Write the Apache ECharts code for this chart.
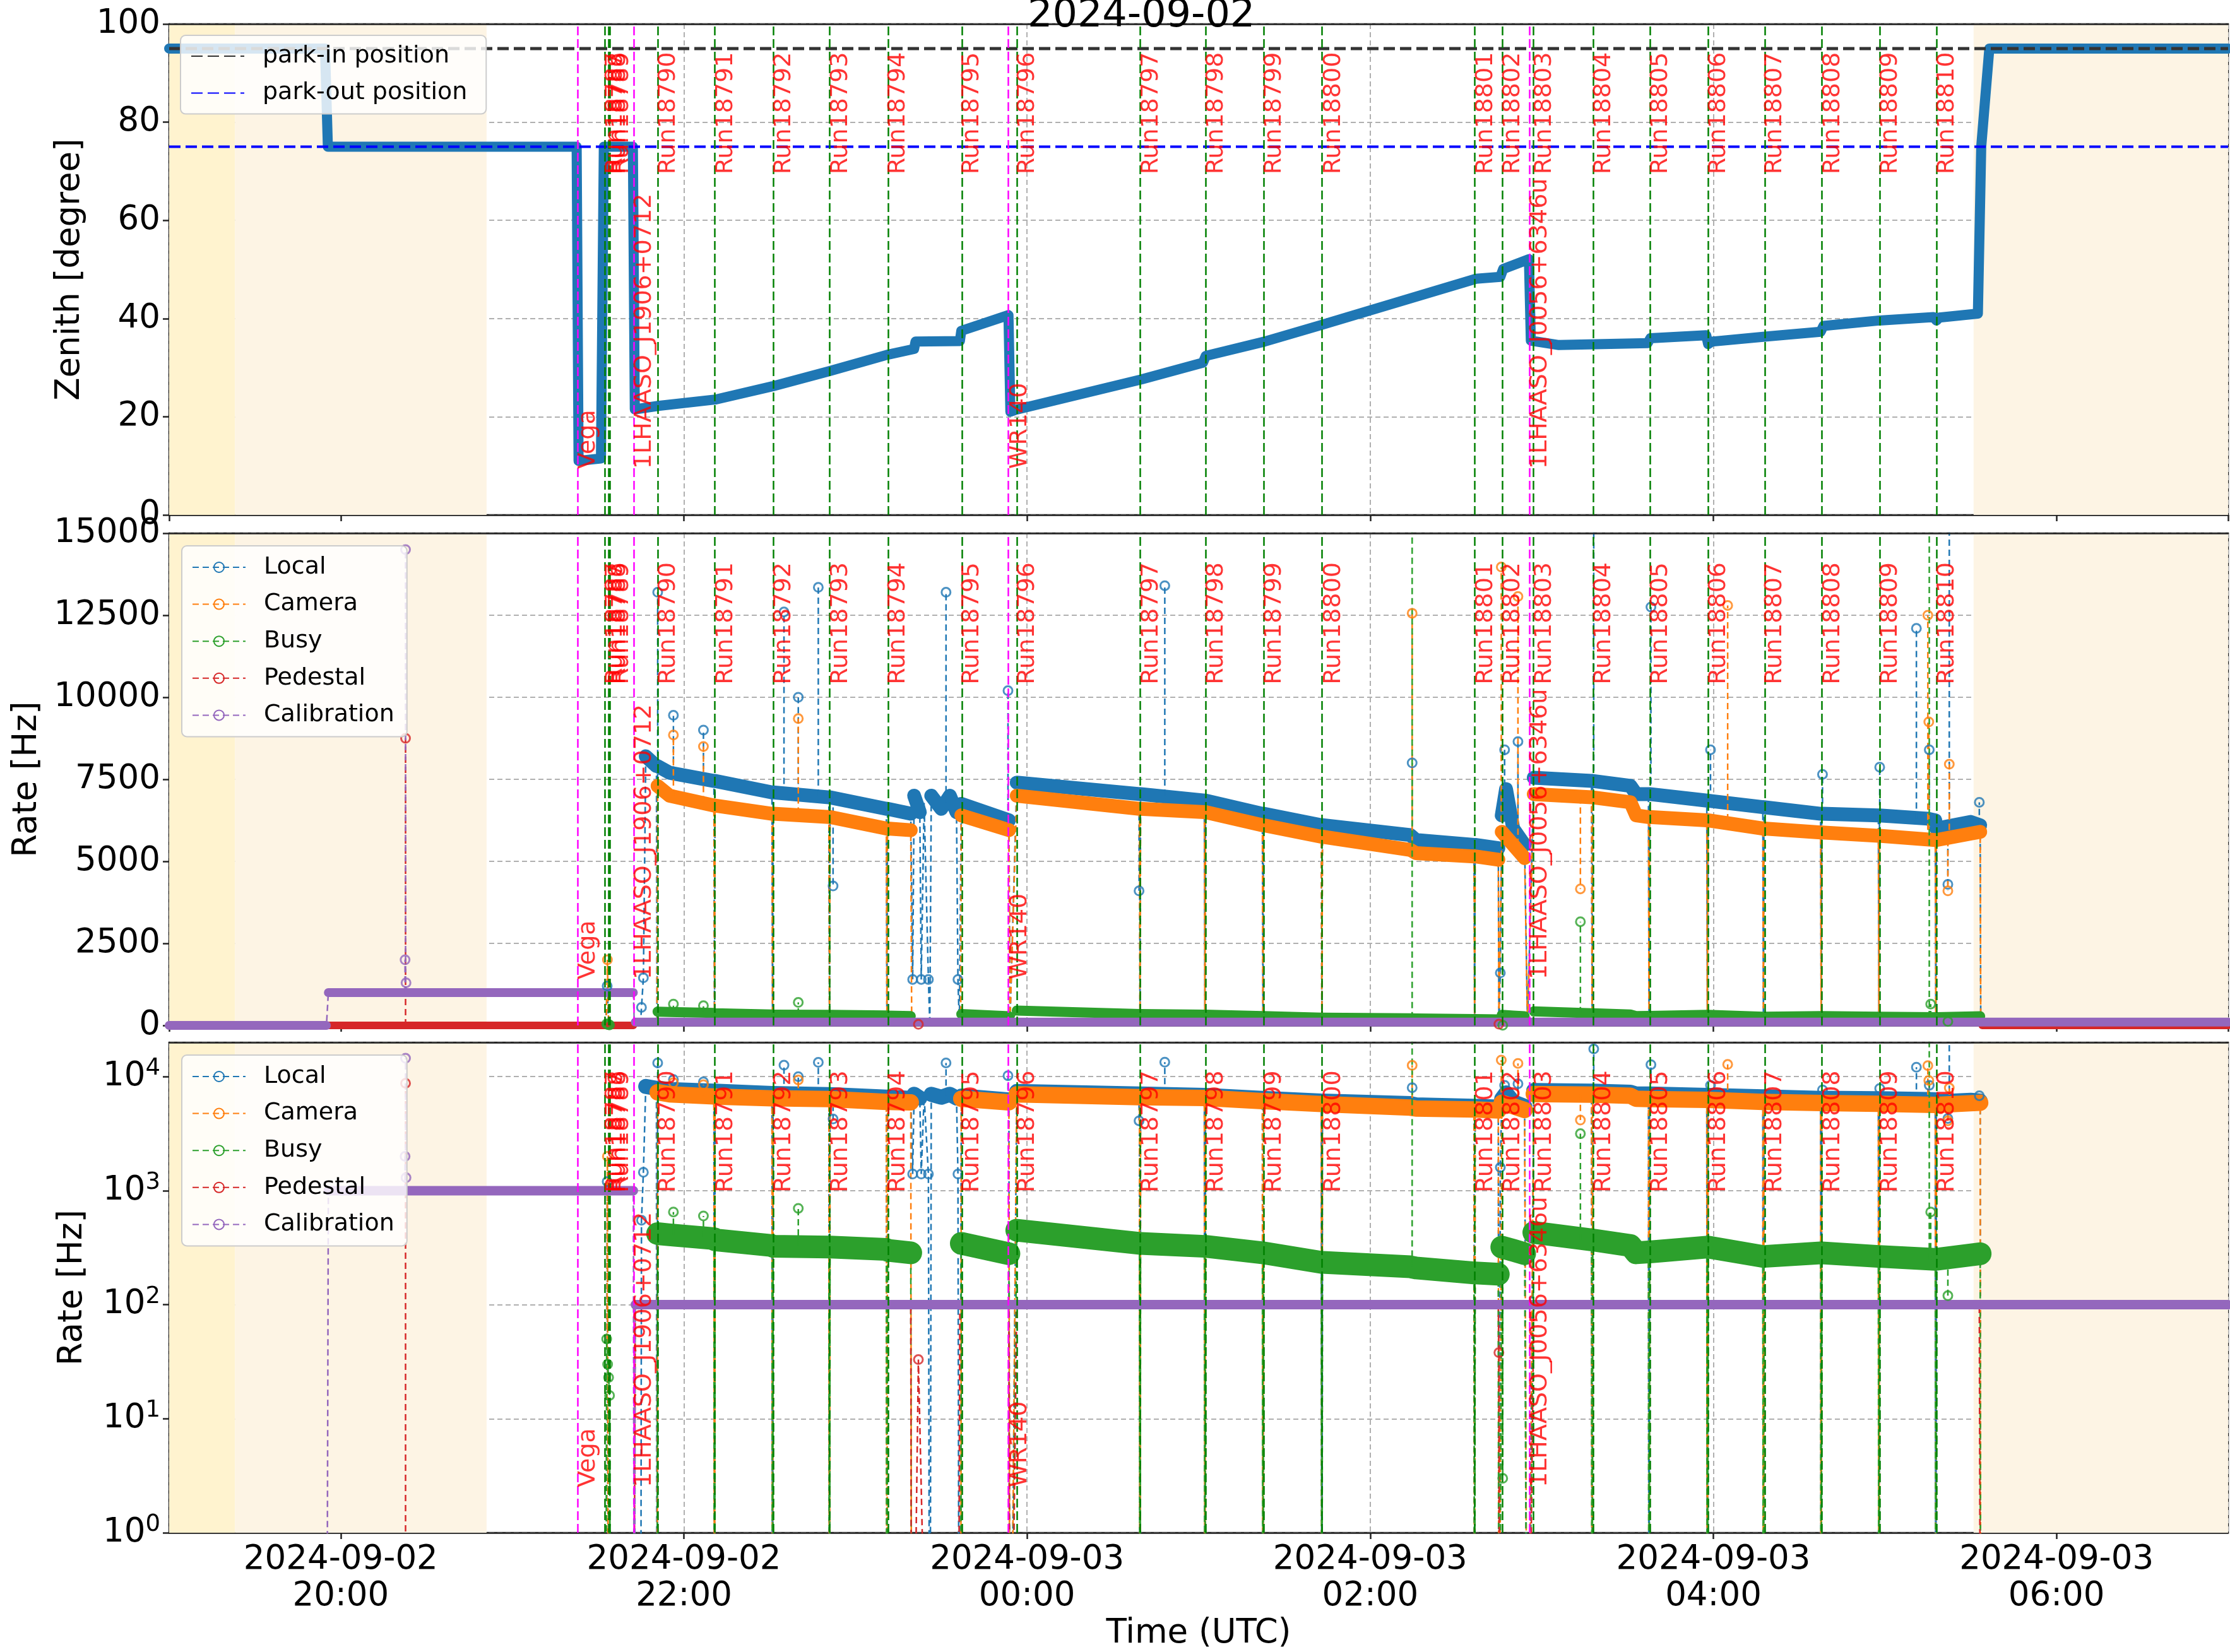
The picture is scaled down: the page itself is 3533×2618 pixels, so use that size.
<!DOCTYPE html>
<html>
<head>
<meta charset="utf-8">
<title>Zenith and trigger rates 2024-09-02</title>
<script src="https://cdn.jsdelivr.net/npm/echarts@6.0.0/dist/echarts.min.js"></script>
<style>
html,body{margin:0;padding:0;background:#ffffff;}
#chart{width:3533px;height:2618px;}
</style>
</head>
<body>
<div id="chart"></div>
<script>
// ====================== DATA (times in UTC, HH:MM[:SS]; hours < 12 belong to 2024-09-03) ======================
const dateTitle = '2024-09-02';

const runNames = ['Run18787','Run18788','Run18789','Run18790','Run18791','Run18792','Run18793','Run18794','Run18795','Run18796',
  'Run18797','Run18798','Run18799','Run18800','Run18801','Run18802','Run18803','Run18804','Run18805','Run18806',
  'Run18807','Run18808','Run18809','Run18810'];
const runTimes = ['21:32:12','21:33:24','21:34:30','21:50:48','22:10:54','22:31:12','22:51:06','23:11:12','23:37:00','23:56:24',
  '00:39:42','01:02:24','01:22:42','01:43:18','02:36:42','02:46:00','02:57:12','03:17:48','03:37:42','03:58:06',
  '04:17:42','04:37:54','04:58:06','05:18:00'];

const sourceNames = ['Vega','1LHAASO_J1906+0712','WR140','1LHAASO_J0056+6346u'];
const sourceTimes = ['21:22:42','21:42:24','23:53:42','02:55:36'];

const shadeStart = ['19:00','19:23','05:31'];
const shadeEnd   = ['19:23','20:51','07:00'];
const shadeKind  = ['sun','twilight','twilight'];

const parkInDeg = 95;
const parkOutDeg = 75;

const zenithTime = ['19:00','19:54:30','19:55:30','21:22:30','21:23:10','21:31:00','21:32:00','21:42:10','21:42:50','21:51:00',
  '22:11:00','22:31:00','22:51:00','23:11:00','23:20:30','23:21:00','23:36:30','23:37:00','23:53:30','23:54:10',
  '23:56:00','00:40:00','01:01:30','01:02:30','01:23:00','01:43:00','02:37:00','02:45:30','02:46:30','02:55:30',
  '02:56:10','03:06:00','03:37:00','03:38:00','03:57:30','03:58:10','03:59:30','04:18:00','04:37:30','04:38:30',
  '04:58:00','05:17:00','05:18:00','05:19:00','05:32:30','05:33:40','05:36:30','07:00'];
const zenithDeg = [95,95,75,75,11,11.5,75,75,21.5,22.2,
  23.5,26.2,29.3,32.6,33.8,35.3,35.4,37.5,40.7,21.0,
  21.4,27.6,31.0,32.4,35.3,38.7,48.1,48.5,50.1,52.1,
  35.5,34.6,35.0,36.0,36.6,34.8,35.3,36.3,37.3,38.5,
  39.6,40.3,39.6,40.2,41.0,75,95,95];

// Local trigger rate [Hz]
const localTime = ['21:46:40','21:50:24','21:50:48','21:55:00','22:10:30','22:10:54','22:30:48','22:31:12','22:50:42','22:51:06',
  '23:10:48','23:11:12','23:19:20','23:20:30','23:22:30','23:24:00','23:26:30','23:30:00','23:33:00','23:35:20',
  '23:37:00','23:53:40','23:56:24','00:39:18','00:39:42','01:02:00','01:02:24','01:22:18','01:22:42','01:42:54',
  '01:43:18','02:14:00','02:16:00','02:36:18','02:36:42','02:44:48','02:46:00','02:47:30','02:50:00','02:54:00',
  '02:57:12','03:17:24','03:17:48','03:31:00','03:33:00','03:37:18','03:37:42','03:57:42','03:58:06','04:17:18',
  '04:17:42','04:37:30','04:37:54','04:57:42','04:58:06','05:15:00','05:17:36','05:18:00','05:30:00','05:33:18'];
const localRate = [8200,7900,7900,7700,7450,7450,7100,7100,6950,6950,
  6600,6600,6450,7000,6500,6800,7000,6600,7000,6500,
  6750,6250,7400,7050,7050,6850,6850,6450,6450,6100,
  6100,5800,5650,5500,5500,5400,6400,7200,6000,5500,
  7550,7450,7450,7300,7050,7050,7050,6850,6850,6650,
  6650,6450,6450,6400,6400,6300,6250,6000,6200,6100];
const localDipTime = ['21:32:40','21:33:10','21:33:40','21:44:50','21:45:10','21:45:50','21:50:36','22:10:42','22:31:00','22:50:54',
  '23:11:00','23:20:00','23:23:00','23:25:30','23:26:00','23:35:50','23:36:20','23:54:00','00:39:30','01:02:12',
  '01:22:30','01:43:06','02:36:30','02:45:00','02:45:30','02:55:00','03:17:36','03:37:30','03:57:54','04:17:30',
  '04:37:42','04:57:54','05:17:48','05:33:30'];
const localDipRate = [0,1200,0,0,550,1450,0,0,0,0,
  0,1400,1400,1400,0,1400,0,0,0,0,
  0,0,0,0,1600,0,0,0,0,0,
  0,0,0,0];
const localSpikeTime = ['21:50:50','21:56:20','22:06:50','22:35:00','22:40:00','22:47:00','22:52:10','23:31:40','23:53:20','00:39:10',
  '00:48:10','02:14:40','02:47:00','02:51:40','03:18:10','03:38:10','03:59:00','04:38:10','04:58:10','05:11:00',
  '05:15:30','05:22:00','05:22:30','05:33:00'];
const localSpikePeak = [13200,9450,9000,12600,10000,13350,4250,13200,10200,4100,
  13400,8000,8400,8650,17500,12750,8400,7650,7870,12100,
  8400,4300,25000,6800];
const localSpikeBase = [7900,7700,7500,7050,7050,7000,6950,6800,6250,7050,
  7000,5800,7000,6000,7450,7050,6850,6450,6400,6300,
  6300,6000,6000,6100];

// Camera trigger rate [Hz]
const cameraTime = ['21:50:48','21:55:00','22:10:30','22:10:54','22:30:48','22:31:12','22:50:42','22:51:06','23:10:48','23:11:12',
  '23:19:20','23:37:00','23:53:40','23:56:24','00:39:18','00:39:42','01:02:00','01:02:24','01:22:18','01:22:42',
  '01:42:54','01:43:18','02:14:00','02:16:00','02:36:18','02:36:42','02:44:48','02:46:00','02:50:00','02:54:00',
  '02:57:12','03:17:24','03:17:48','03:31:00','03:33:00','03:37:18','03:37:42','03:57:42','03:58:06','04:17:18',
  '04:17:42','04:37:30','04:37:54','04:57:42','04:58:06','05:17:36','05:18:00','05:33:18'];
const cameraRate = [7300,7000,6700,6700,6450,6450,6350,6350,6000,6000,
  5950,6400,5950,7000,6600,6600,6500,6500,6100,6100,
  5750,5750,5350,5250,5150,5150,5050,5900,5500,5100,
  7050,6950,6950,6800,6400,6350,6350,6250,6250,6000,
  6000,5880,5880,5780,5780,5650,5650,5900];
const cameraDipTime = ['21:32:50','21:33:15','21:33:40','21:50:36','22:10:42','22:31:00','22:50:54','23:11:00','23:19:40','23:36:48',
  '23:54:00','00:39:30','01:02:12','01:22:30','01:43:06','02:36:30','02:45:00','02:55:00','03:17:36','03:37:30',
  '03:57:54','04:17:30','04:37:42','04:57:54','05:17:48','05:33:30'];
const cameraDipRate = [0,2000,0,0,0,0,0,0,0,0,
  0,0,0,0,0,0,0,0,0,0,
  0,0,0,0,0,0];
const cameraSpikeTime = ['21:56:20','22:06:50','22:40:00','02:14:40','02:45:50','02:51:40','03:13:30','04:05:00','05:15:00','05:15:20','05:22:00','05:22:30'];
const cameraSpikePeak = [8850,8500,9350,12560,13970,13070,4160,12800,12500,9250,4100,7960];
const cameraSpikeBase = [7000,6800,6450,5300,5900,5500,6950,6250,5650,5650,5650,5650];

// Busy rate [Hz]
const busyTime = ['21:50:48','21:55:00','22:10:30','22:10:54','22:30:48','22:31:12','22:50:42','22:51:06','23:10:48','23:11:12',
  '23:19:20','23:37:00','23:53:40','23:56:24','00:39:18','00:39:42','01:02:00','01:02:24','01:22:18','01:22:42',
  '01:42:54','01:43:18','02:14:00','02:16:00','02:36:18','02:36:42','02:44:48','02:46:00','02:50:00','02:54:00',
  '02:57:12','03:17:24','03:17:48','03:31:00','03:33:00','03:37:18','03:37:42','03:57:42','03:58:06','04:17:18',
  '04:17:42','04:37:30','04:37:54','04:57:42','04:58:06','05:17:36','05:18:00','05:33:18'];
const busyRate = [420,410,380,370,330,325,320,320,305,300,
  285,345,280,450,345,345,325,325,285,285,
  235,235,215,210,190,190,185,320,300,280,
  430,370,370,330,285,290,290,320,320,265,
  265,285,285,265,265,250,250,280];
const busyDipTime = ['21:32:40','21:33:00','21:33:20','21:33:40','21:34:00','21:34:30','21:50:36','22:10:42','22:31:00','22:50:54',
  '23:11:00','23:19:40','23:36:48','23:54:00','00:39:30','01:02:12','01:22:30','01:43:06','02:36:30','02:45:00',
  '02:55:00','03:17:36','03:37:30','03:57:54','04:17:30','04:37:42','04:57:54','05:17:48','05:33:30'];
const busyDipRate = [0,50,30,23,16,0,0,0,0,0,
  0,0,0,0,0,0,0,0,0,0,
  0,0,0,0,0,0,0,0,0];
const busySpikeTime = ['21:56:20','22:06:50','22:40:00','02:14:40','02:46:20','03:13:30','05:15:30','05:16:00','05:22:00'];
const busySpikePeak = [650,600,700,30000,3,3160,30000,650,120];
const busySpikeBase = [410,390,330,215,320,370,250,250,250];

// Pedestal rate [Hz]
const pedestalTime = ['19:00','19:55:00','21:42:20','21:43:00','23:19:20','23:36:30','23:53:40','23:56:24','02:44:48','02:57:12','05:33:00','05:34:00','07:00'];
const pedestalRate = [0,0,0,100,100,100,100,100,100,100,100,0,0];
const pedestalDipTime = ['21:42:40','23:19:40','23:22:00','23:26:00','23:35:50','23:54:00','02:45:00','02:45:20','02:55:00','05:33:30'];
const pedestalDipRate = [0,0,33,0,0,0,38,0,0,0];
const pedestalSpikeTime = ['20:22:40'];
const pedestalSpikePeak = [8750];
const pedestalSpikeBase = [0];

// Calibration rate [Hz]
const calibTime = ['19:00','19:55:00','19:55:40','21:42:20','21:43:00','07:00'];
const calibRate = [0,0,1000,1000,100,100];
const calibDipTime = ['19:55:20','21:42:40'];
const calibDipRate = [0,0];
const calibSpikeTime = ['20:22:30','20:22:40','20:22:50'];
const calibSpikePeak = [2000,14500,1300];
const calibSpikeBase = [1000,1000,1000];

// ====================== HELPERS ======================
function hr(s) {
  const p = s.split(':').map(Number);
  let h = p[0] + (p[1] || 0) / 60 + (p[2] || 0) / 3600;
  if (h < 12) h += 24;
  return h;
}
function pts(T, V) { return T.map((t, i) => [hr(t), V[i]]); }
function bandData(T, V, dipT) {
  const dips = dipT.map(hr), out = [];
  for (let i = 0; i < T.length; i++) {
    const x = hr(T[i]);
    if (i > 0) {
      const px = hr(T[i - 1]);
      if (dips.some(d => d > px && d < x)) out.push([(px + x) / 2, '-']);
    }
    out.push([x, V[i]]);
  }
  return out;
}
function connData(T, V, dT, dV) { return pts(T, V).concat(pts(dT, dV)).sort((a, b) => a[0] - b[0]); }
function spikeData(T, P, B) {
  const out = [];
  T.forEach((t, i) => { const x = hr(t); out.push([x, B[i]], [x, P[i]], [x, '-']); });
  return out;
}
function markerData(dT, dV, sT, sP) { return pts(dT, dV).filter(p => p[1] > 0).concat(pts(sT, sP)); }
const logSafe = d => d.map(p => [p[0], p[1] === '-' ? '-' : Math.max(p[1], 0.001)]);

// ====================== STYLE ======================
const FONT = 'DejaVu Sans';
const GRID_COLOR = '#b0b0b0';
const FRAME = '#222222';
const shadeColor = { sun: '#fff3cf', twilight: '#fdf4e4' };
const rateSignals = [
  { name: 'Local', color: '#1f77b4', width: [22, 24], T: localTime, V: localRate, dT: localDipTime, dV: localDipRate, sT: localSpikeTime, sP: localSpikePeak, sB: localSpikeBase },
  { name: 'Camera', color: '#ff7f0e', width: [22, 26], T: cameraTime, V: cameraRate, dT: cameraDipTime, dV: cameraDipRate, sT: cameraSpikeTime, sP: cameraSpikePeak, sB: cameraSpikeBase },
  { name: 'Busy', color: '#2ca02c', width: [16, 36], T: busyTime, V: busyRate, dT: busyDipTime, dV: busyDipRate, sT: busySpikeTime, sP: busySpikePeak, sB: busySpikeBase },
  { name: 'Pedestal', color: '#d62728', width: [12, 12], T: pedestalTime, V: pedestalRate, dT: pedestalDipTime, dV: pedestalDipRate, sT: pedestalSpikeTime, sP: pedestalSpikePeak, sB: pedestalSpikeBase },
  { name: 'Calibration', color: '#9467bd', width: [14, 15], T: calibTime, V: calibRate, dT: calibDipTime, dV: calibDipRate, sT: calibSpikeTime, sP: calibSpikePeak, sB: calibSpikeBase }
];

const grids = [
  { left: 268, right: 3, top: 38, height: 778 },
  { left: 268, right: 3, top: 845, height: 780 },
  { left: 268, right: 3, top: 1652, height: 777 }
].map(g => Object.assign(g, { show: true, borderColor: FRAME, borderWidth: 2.5, backgroundColor: 'rgba(0,0,0,0)' }));

function xFormatter(v) {
  const h = Math.round(v);
  const day = h >= 24 ? '03' : '02';
  const hh = String(h % 24).padStart(2, '0');
  return '2024-09-' + day + '\n' + hh + ':00';
}

const xAxes = [0, 1, 2].map(i => ({
  gridIndex: i, type: 'value', min: 19, max: 31, minInterval: 2, maxInterval: 2,
  axisLine: { show: true, onZero: false, lineStyle: { color: FRAME, width: 2.5 } },
  axisTick: { show: true, length: 10, lineStyle: { color: FRAME, width: 2.5 } },
  axisLabel: { show: i === 2, showMinLabel: false, showMaxLabel: false, formatter: xFormatter,
    fontSize: 53, lineHeight: 58, margin: 14, color: '#000', fontFamily: FONT },
  splitLine: { show: true, lineStyle: { color: GRID_COLOR, width: 2, type: [8, 5] } },
  name: i === 2 ? 'Time (UTC)' : '', nameLocation: 'middle', nameGap: 134,
  nameTextStyle: { fontSize: 53, color: '#000', fontFamily: FONT }
})).concat([0, 1, 2].map(i => ({
  // top frame line of each panel (drawn above the grid lines)
  gridIndex: i, type: 'value', position: 'top', min: 19, max: 31, z: 5,
  axisLine: { show: true, onZero: false, lineStyle: { color: FRAME, width: 2.5 } },
  axisTick: { show: false }, axisLabel: { show: false }, splitLine: { show: false }
})));

const yCommon = {
  axisLine: { show: true, onZero: false, lineStyle: { color: FRAME, width: 2.5 } },
  axisTick: { show: true, length: 10, lineStyle: { color: FRAME, width: 2.5 } },
  splitLine: { show: true, lineStyle: { color: GRID_COLOR, width: 2, type: [8, 5] } },
  nameLocation: 'middle',
  nameTextStyle: { fontSize: 53, color: '#000', fontFamily: FONT }
};
const plainNum = v => String(v);
const yAxes = [
  Object.assign({}, yCommon, { gridIndex: 0, type: 'value', min: 0, max: 100, interval: 20, name: 'Zenith [degree]', nameGap: 130,
    axisLabel: { fontSize: 53, color: '#000', margin: 14, fontFamily: FONT, formatter: plainNum } }),
  Object.assign({}, yCommon, { gridIndex: 1, type: 'value', min: 0, max: 15000, interval: 2500, name: 'Rate [Hz]', nameGap: 198,
    axisLabel: { fontSize: 53, color: '#000', margin: 14, fontFamily: FONT, formatter: plainNum } }),
  Object.assign({}, yCommon, { gridIndex: 2, type: 'log', logBase: 10, min: 1, max: 19953, name: 'Rate [Hz]', nameGap: 126,
    axisLabel: { margin: 14, showMaxLabel: false,
      formatter: v => { const e = Math.log10(v); const r = Math.round(e); if (Math.abs(e - r) > 1e-6) return ''; return '{b|10}{s|' + r + '}'; },
      rich: { b: { fontSize: 53, lineHeight: 62, color: '#000', fontFamily: FONT }, s: { fontSize: 37, lineHeight: 40, verticalAlign: 'top', color: '#000', fontFamily: FONT } } } })
];

// ====================== SERIES ======================
const series = [];

function shadeSeries(gi) {
  return { type: 'line', xAxisIndex: gi, yAxisIndex: gi, data: [], z: -2, silent: true,
    markArea: { silent: true, data: shadeStart.map((s, i) => [{ xAxis: hr(s), itemStyle: { color: shadeColor[shadeKind[i]] } }, { xAxis: hr(shadeEnd[i]) }]) } };
}
function vlineSeries(gi) {
  const d = runTimes.map(t => ({ xAxis: hr(t), lineStyle: { color: '#008000', width: 2.5, type: [14, 6] } }))
    .concat(sourceTimes.map(t => ({ xAxis: hr(t), lineStyle: { color: '#ff00ff', width: 2.5, type: [14, 6] } })));
  return { type: 'line', xAxisIndex: gi, yAxisIndex: gi, data: [], z: 10, silent: true,
    markLine: { silent: true, symbol: ['none', 'none'], label: { show: false }, data: d } };
}
function labelSeries(gi, names, times, y) {
  return { type: 'scatter', xAxisIndex: gi, yAxisIndex: gi, z: 12, silent: true, symbol: 'circle', symbolSize: 1,
    itemStyle: { color: 'rgba(0,0,0,0)' },
    data: times.map((t, i) => ({ name: names[i], value: [hr(t), y] })),
    label: { show: true, formatter: '{b}', position: [-1, 0], rotate: 90, align: 'left', verticalAlign: 'top',
      color: '#ff0000', fontSize: 38, lineHeight: 38, fontFamily: FONT },
    labelLayout: { hideOverlap: false } };
}

// Panel 1: zenith
series.push(shadeSeries(0));
series.push({ name: 'Zenith', type: 'line', xAxisIndex: 0, yAxisIndex: 0, data: pts(zenithTime, zenithDeg), showSymbol: false,
  lineStyle: { color: '#1f77b4', width: 16, join: 'round', cap: 'round' }, z: 3, silent: true });
series.push({ name: 'park-in position', type: 'line', xAxisIndex: 0, yAxisIndex: 0, data: [[19, parkInDeg], [31, parkInDeg]],
  symbol: 'none', lineStyle: { color: '#333333', width: 5, type: [18, 8] }, itemStyle: { color: 'rgba(0,0,0,0)', borderWidth: 0 }, z: 4, silent: true });
series.push({ name: 'park-out position', type: 'line', xAxisIndex: 0, yAxisIndex: 0, data: [[19, parkOutDeg], [31, parkOutDeg]],
  symbol: 'none', lineStyle: { color: '#0000ff', width: 4, type: [18, 8] }, itemStyle: { color: 'rgba(0,0,0,0)', borderWidth: 0 }, z: 4, silent: true });
series.push(vlineSeries(0));
series.push(labelSeries(0, runNames, runTimes, 69.3));
series.push(labelSeries(0, sourceNames, sourceTimes, 9.3));

// Panels 2 and 3: rates (linear and log)
[1, 2].forEach(gi => {
  const f = gi === 2 ? logSafe : (d => d);
  series.push(shadeSeries(gi));
  rateSignals.forEach(s => {
    series.push({ name: s.name, type: 'line', xAxisIndex: gi, yAxisIndex: gi, data: f(connData(s.T, s.V, s.dT, s.dV)),
      showSymbol: false, symbol: 'circle', symbolSize: 14,
      itemStyle: { color: 'rgba(255,255,255,0)', borderColor: s.color, borderWidth: 3 },
      lineStyle: { color: s.color, width: 2.5, type: [10, 6] }, z: 2, silent: true });
    series.push({ name: s.name + ' band', type: 'line', xAxisIndex: gi, yAxisIndex: gi, data: f(bandData(s.T, s.V, s.dT)),
      showSymbol: false, lineStyle: { color: s.color, width: s.width[gi - 1], join: 'round', cap: 'round' }, z: 2, silent: true });
    series.push({ name: s.name + ' spikes', type: 'line', xAxisIndex: gi, yAxisIndex: gi, data: f(spikeData(s.sT, s.sP, s.sB)),
      showSymbol: false, lineStyle: { color: s.color, width: 2.5, type: [10, 6] }, z: 2, silent: true });
    series.push({ name: s.name + ' markers', type: 'scatter', xAxisIndex: gi, yAxisIndex: gi, data: f(markerData(s.dT, s.dV, s.sT, s.sP)),
      symbol: 'circle', symbolSize: 14, clip: true,
      itemStyle: { color: 'rgba(255,255,255,0)', borderColor: s.color, borderWidth: 3 }, z: 2, silent: true });
  });
  series.push(vlineSeries(gi));
  if (gi === 1) {
    series.push(labelSeries(gi, runNames, runTimes, 10380));
    series.push(labelSeries(gi, sourceNames, sourceTimes, 1390));
  } else {
    series.push(labelSeries(gi, runNames, runTimes, Math.pow(10, 0.693 * Math.log10(19953))));
    series.push(labelSeries(gi, sourceNames, sourceTimes, Math.pow(10, 0.092 * Math.log10(19953))));
  }
});

const rateNames = rateSignals.map(s => s.name);
const legendCommon = {
  orient: 'vertical', itemWidth: 84, itemHeight: 20, itemGap: 14.6, selectedMode: false, z: 20,
  backgroundColor: 'rgba(255,255,255,0.82)', borderColor: '#cccccc', borderWidth: 2, borderRadius: 8,
  textStyle: { fontSize: 38, lineHeight: 44, color: '#000', fontFamily: FONT, padding: [0, 0, 0, 24] }
};

const option = {
  animation: false,
  backgroundColor: '#ffffff',
  textStyle: { fontFamily: FONT },
  title: { text: dateTitle, left: 1623, top: -10, textStyle: { fontSize: 62, fontWeight: 'normal', color: '#000', fontFamily: FONT } },
  legend: [
    Object.assign({}, legendCommon, { data: ['park-in position', 'park-out position'], left: 286, top: 56, padding: [11, 30, 11, 16] }),
    Object.assign({}, legendCommon, { data: rateNames, left: 288, top: 865, padding: [12, 20, 12, 16] }),
    Object.assign({}, legendCommon, { data: rateNames, left: 288, top: 1672, padding: [12, 20, 12, 16] })
  ],
  grid: grids,
  xAxis: xAxes,
  yAxis: yAxes,
  series: series
};

const chart = echarts.init(document.getElementById('chart'), null, { renderer: 'canvas' });
chart.setOption(option);
</script>
</body>
</html>
